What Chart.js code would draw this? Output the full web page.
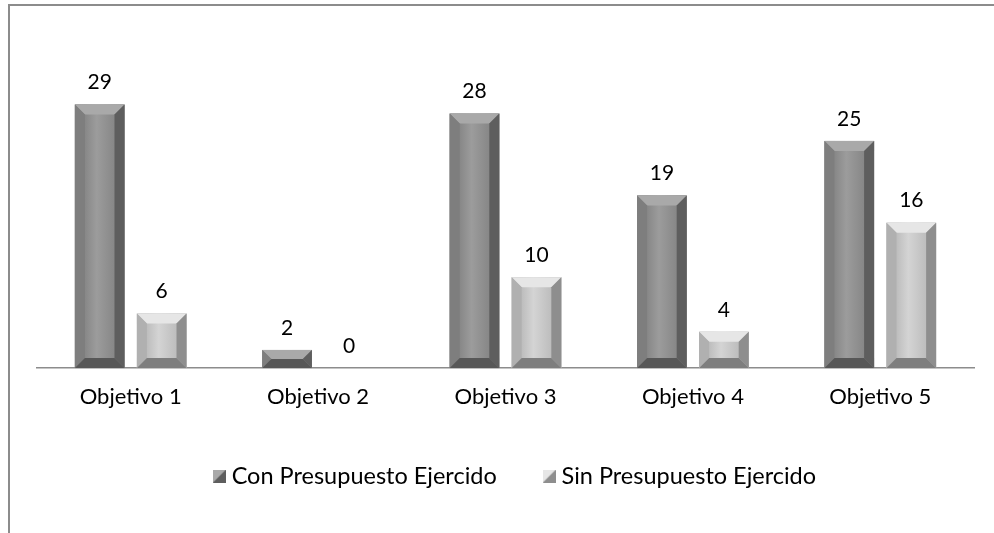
<!DOCTYPE html>
<html>
<head>
<meta charset="utf-8">
<script src="https://cdn.jsdelivr.net/npm/chart.js@4.4.0/dist/chart.umd.min.js"></script>
<style>
  html, body { margin: 0; padding: 0; background: #fff; overflow: hidden; width: 994px; height: 533px; }
  #frame { position: absolute; left: 8px; top: 4px; width: 1080px; height: 560px;
           border-left: 2px solid #8c8c8c; border-top: 2px solid #8c8c8c; background: #fff; }
  #wrap { position: absolute; left: 0; top: 0; width: 1020px; height: 527px; }
</style>
</head>
<body>
<div id="frame"><div id="wrap"><canvas id="c"></canvas></div></div>
<script>
const categories = ['Objetivo 1', 'Objetivo 2', 'Objetivo 3', 'Objetivo 4', 'Objetivo 5'];
const seriesNames = ['Con Presupuesto Ejercido', 'Sin Presupuesto Ejercido'];
const conPresupuesto = [29, 2, 28, 19, 25];
const sinPresupuesto = [6, 0, 10, 4, 16];

const FONT = 'Lato, "Open Sans", sans-serif';

// Bevel palettes per series
const palettes = [
  { front: '#878787', center: '#9c9c9c', top: '#a9a9a9', left: '#7e7e7e', right: '#5e5e5e', bottom: '#575757' },
  { front: '#bdbdbd', center: '#d4d4d4', top: '#e6e6e6', left: '#b0b0b0', right: '#8e8e8e', bottom: '#7e7e7e' }
];

const bevelPlugin = {
  id: 'bevel',
  afterDatasetsDraw(chart) {
    const ctx = chart.ctx;
    chart.data.datasets.forEach((ds, di) => {
      const meta = chart.getDatasetMeta(di);
      const p = palettes[di];
      meta.data.forEach((bar) => {
        const w = bar.width;
        const x0 = bar.x - w / 2, x1 = bar.x + w / 2;
        const y0 = Math.min(bar.y, bar.base), y1 = Math.max(bar.y, bar.base);
        const h = y1 - y0;
        if (h < 0.5) return;
        const b = Math.min(10, h / 2, w / 2);
        ctx.save();
        const g = ctx.createLinearGradient(x0 + b, 0, x1 - b, 0);
        g.addColorStop(0, p.front);
        g.addColorStop(0.4, p.center);
        g.addColorStop(1, p.front);
        ctx.fillStyle = g;
        ctx.fillRect(x0, y0, w, h);
        ctx.fillStyle = p.top;
        ctx.beginPath();
        ctx.moveTo(x0, y0); ctx.lineTo(x1, y0); ctx.lineTo(x1 - b, y0 + b); ctx.lineTo(x0 + b, y0 + b); ctx.closePath(); ctx.fill();
        ctx.fillStyle = p.left;
        ctx.beginPath();
        ctx.moveTo(x0, y0); ctx.lineTo(x0 + b, y0 + b); ctx.lineTo(x0 + b, y1 - b); ctx.lineTo(x0, y1); ctx.closePath(); ctx.fill();
        ctx.fillStyle = p.right;
        ctx.beginPath();
        ctx.moveTo(x1, y0); ctx.lineTo(x1 - b, y0 + b); ctx.lineTo(x1 - b, y1 - b); ctx.lineTo(x1, y1); ctx.closePath(); ctx.fill();
        ctx.fillStyle = p.bottom;
        ctx.beginPath();
        ctx.moveTo(x0, y1); ctx.lineTo(x0 + b, y1 - b); ctx.lineTo(x1 - b, y1 - b); ctx.lineTo(x1, y1); ctx.closePath(); ctx.fill();
        ctx.restore();
      });
    });
  }
};

const labelPlugin = {
  id: 'valueLabels',
  afterDatasetsDraw(chart) {
    const ctx = chart.ctx;
    ctx.save();
    ctx.font = '21px ' + FONT;
    ctx.fillStyle = '#000';
    ctx.textAlign = 'center';
    ctx.textBaseline = 'middle';
    chart.data.datasets.forEach((ds, di) => {
      const meta = chart.getDatasetMeta(di);
      meta.data.forEach((bar, i) => {
        ctx.fillText(String(ds.data[i]), bar.x, bar.y - 22);
      });
    });
    ctx.restore();
  }
};

// shift the legend block slightly right, as in the reference
const legendShift = {
  id: 'legendShift',
  afterLayout(chart) {
    if (chart.legend) { chart.legend.left += 12; chart.legend.right += 12; }
  }
};

const legendSwatch = (di) => {
  const c = document.createElement('canvas');
  c.width = 13; c.height = 13;
  const x = c.getContext('2d');
  const p = palettes[di];
  x.fillStyle = p.front; x.fillRect(0, 0, 13, 13);
  x.fillStyle = p.top; x.beginPath(); x.moveTo(0,0); x.lineTo(13,0); x.lineTo(0,13); x.closePath(); x.fill();
  x.fillStyle = p.right; x.beginPath(); x.moveTo(13,0); x.lineTo(13,13); x.lineTo(0,13); x.closePath(); x.fill();
  return c;
};

new Chart(document.getElementById('c'), {
  type: 'bar',
  data: {
    labels: categories,
    datasets: [
      { label: seriesNames[0], data: conPresupuesto, backgroundColor: palettes[0].front, pointStyle: legendSwatch(0) },
      { label: seriesNames[1], data: sinPresupuesto, backgroundColor: palettes[1].front, pointStyle: legendSwatch(1) }
    ]
  },
  options: {
    responsive: true,
    maintainAspectRatio: false,
    animation: false,
    categoryPercentage: 0.662,
    barPercentage: 0.8,
    layout: { padding: { left: 27, right: 56, top: 44, bottom: 35 } },
    plugins: {
      legend: {
        position: 'bottom',
        labels: {
          usePointStyle: true,
          pointStyleWidth: 1,
          font: { family: FONT, size: 23.5 },
          color: '#000',
          padding: 52,
          boxWidth: 13, boxHeight: 13
        }
      },
      tooltip: { enabled: false },
      title: { display: false }
    },
    scales: {
      x: {
        grid: { display: false, drawTicks: false },
        border: { display: true, color: '#8c8c8c', width: 1.5 },
        ticks: { font: { family: FONT, size: 22 }, color: '#000', padding: 16 },
        afterFit(scale) { scale.height -= 14; }
      },
      y: {
        display: false,
        min: 0, max: 35
      }
    }
  },
  plugins: [bevelPlugin, labelPlugin, legendShift]
});
</script>
</body>
</html>
